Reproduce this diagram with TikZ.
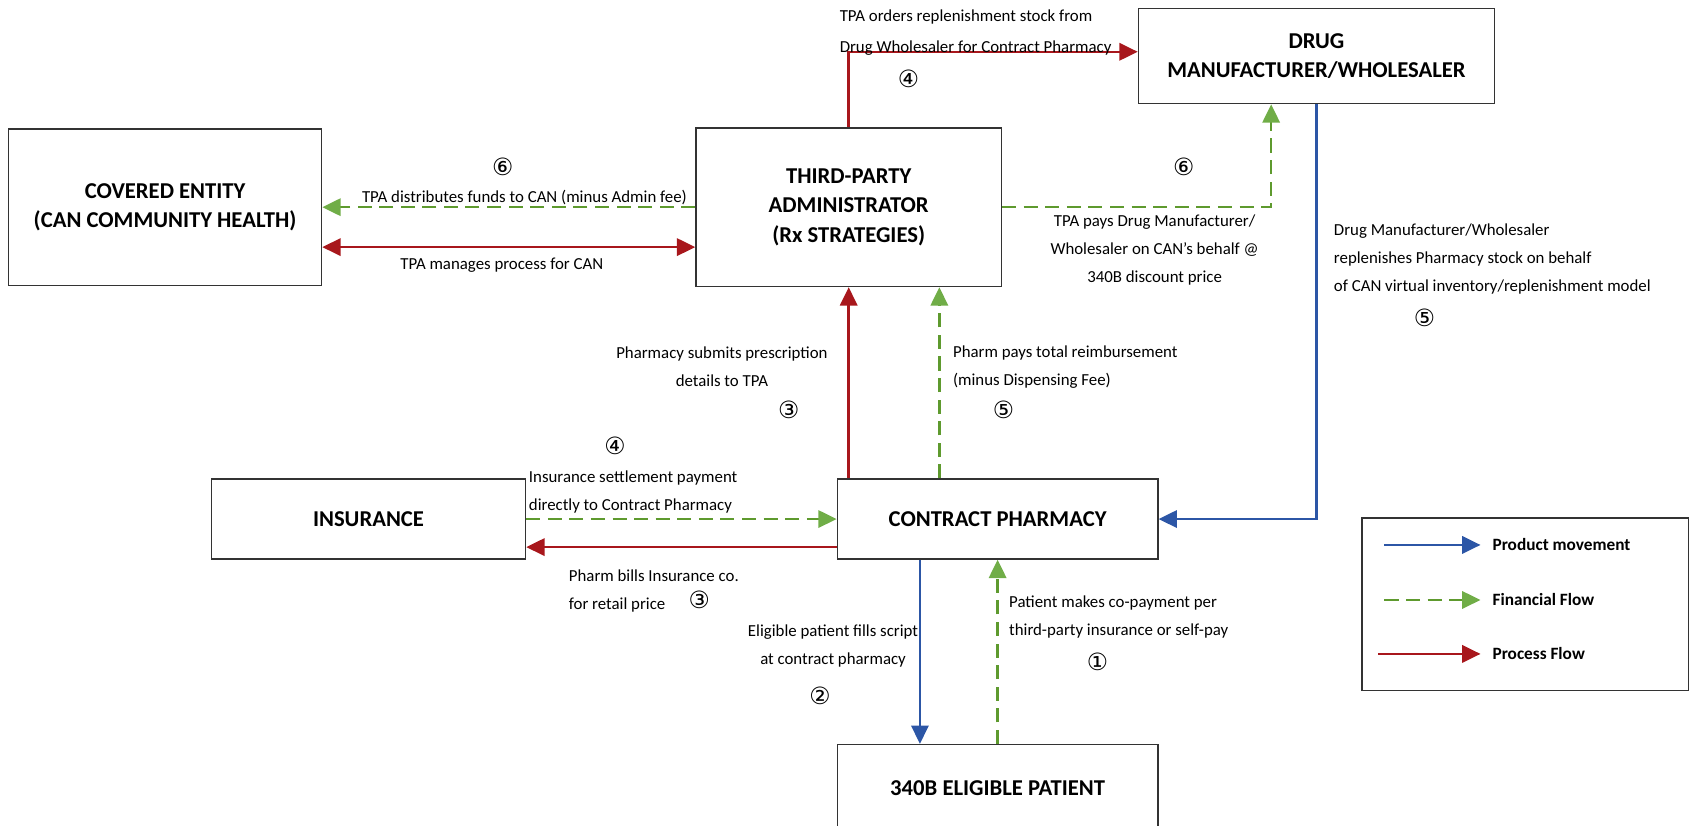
\documentclass[tikz,border=0pt]{standalone}
\usepackage{fontspec}
\setmainfont{Carlito}
\newfontfamily\circfont{DejaVu Sans}
\usetikzlibrary{arrows.meta,calc}
\definecolor{procred}{HTML}{A8171C}
\definecolor{fingreen}{HTML}{5E9A2E}
\definecolor{fingreenhead}{HTML}{70AD47}
\definecolor{prodblue}{HTML}{2C56A6}
\begin{document}
\begin{tikzpicture}[x=1pt,y=-1pt,
  box/.style={draw=black!80, line width=1.3pt, fill=white, align=center,
    font=\fontsize{21}{27.5}\selectfont\bfseries, inner sep=0pt},
  lbl/.style={font=\fontsize{15.6}{26}\selectfont, inner sep=0pt},
  num/.style={font=\circfont\fontsize{22}{22}\selectfont, inner sep=0pt},
  legtxt/.style={font=\fontsize{16}{18}\selectfont\bfseries, inner sep=0pt, anchor=west},
  redtip/.style={-{Triangle[length=17pt,width=16pt]}},
  proc/.style={draw=procred, line width=2.3pt, redtip},
  procboth/.style={draw=procred, line width=2.3pt, {Triangle[length=17pt,width=16pt]}-{Triangle[length=17pt,width=16pt]}},
  fin/.style={draw=fingreen, line width=2.3pt, dash pattern=on 13pt off 7pt,
    -{Triangle[length=17pt,width=16pt,color=fingreenhead]}},
  prod/.style={draw=prodblue, line width=2.3pt, -{Triangle[length=17pt,width=16pt]}}
]
\useasboundingbox (0,0) rectangle (1568,765);
\clip (0,0) rectangle (1568,765);

% boxes
\node[box, minimum width=290pt, minimum height=145pt] (ce) at (153,192) {COVERED ENTITY\\(CAN COMMUNITY HEALTH)};
\node[box, minimum width=283pt, minimum height=147pt] (tpa) at (786.5,192) {THIRD-PARTY\\ADMINISTRATOR\\(Rx STRATEGIES)};
\node[box, minimum width=330pt, minimum height=88pt] (drug) at (1220,52) {DRUG\\MANUFACTURER/WHOLESALER};
\node[box, minimum width=291pt, minimum height=74pt] (ins) at (341.5,481) {INSURANCE};
\node[box, minimum width=297pt, minimum height=74pt] (pharm) at (924.5,481) {CONTRACT PHARMACY};
\node[box, minimum width=297pt, minimum height=80pt] (pat) at (924.5,730) {340B ELIGIBLE PATIENT};

% connectors
\draw[proc] (tpa.north) |- ($(drug.west)+(0,-4)$);
\draw[fin] (tpa.east) -| ($(drug.south)+(-42,0)$);
\draw[fin] (tpa.west) -- (ce.east);
\draw[procboth] ($(ce.east)+(0,37)$) -- ($(tpa.west)+(0,37)$);
\draw[prod] (drug.south) |- (pharm.east);
\draw[proc] (tpa.south |- pharm.north) -- (tpa.south);
\draw[fin] ($(tpa.south |- pharm.north)+(84,0)$) -- ($(tpa.south)+(84,0)$);
\draw[fin] (ins.east) -- (pharm.west);
\draw[proc] ($(pharm.west)+(0,26)$) -- ($(ins.east)+(0,26)$);
\draw[prod] ($(pharm.south)+(-72,0)$) -- ($(pat.north)+(-72,0)$);
\draw[fin] (pat.north) -- (pharm.south);

% labels
\node[lbl, anchor=west, align=left, font=\fontsize{15.6}{29}\selectfont] (l1) at (778,30) {TPA orders replenishment stock from\\Drug Wholesaler for Contract Pharmacy};
\node[num] (n1) at (842,73) {④};
\node[lbl] (l2) at (486,183) {TPA distributes funds to CAN (minus Admin fee)};
\node[num] (n2) at (466,155) {⑥};
\node[lbl] (l3) at (465,246) {TPA manages process for CAN};
\node[lbl, align=center] (l4) at (1070,232) {TPA pays Drug Manufacturer/\\Wholesaler on CAN's behalf @\\340B discount price};
\node[num] (n4) at (1097,155) {⑥};
\node[lbl, anchor=west, align=left] (l5) at (1236,240) {Drug Manufacturer/Wholesaler\\replenishes Pharmacy stock on behalf\\of CAN virtual inventory/replenishment model};
\node[num] (n5) at (1320,295) {⑤};
\node[lbl, align=center] (l6) at (669,340) {Pharmacy submits prescription\\details to TPA};
\node[num] (n6) at (731,380) {③};
\node[lbl, anchor=west, align=left] (l7) at (883,340) {Pharm pays total reimbursement\\(minus Dispensing Fee)};
\node[num] (n7) at (930,380) {⑤};
\node[num] (n8) at (570,413) {④};
\node[lbl, anchor=west, align=left] (l8) at (490,456) {Insurance settlement payment\\directly to Contract Pharmacy};
\node[lbl, anchor=west, align=left] (l9) at (527,548) {Pharm bills Insurance co.\\for retail price};
\node[num] (n9) at (648,556) {③};
\node[lbl, align=center] (l10) at (772,599) {Eligible patient fills script\\at contract pharmacy};
\node[num] (n10) at (760,645) {②};
\node[lbl, anchor=west, align=left] (l11) at (935,572) {Patient makes co-payment per\\third-party insurance or self-pay};
\node[num] (n11) at (1017,613) {①};

% legend
\node[draw=black!80, line width=1.3pt, minimum width=303pt, minimum height=160pt, inner sep=0pt] (leg) at (1413.5,560) {};
\coordinate (la1) at (1283,505); \coordinate (lb1) at (1372,505);
\coordinate (la2) at (1283,556); \coordinate (lb2) at (1372,556);
\coordinate (la3) at (1277,606); \coordinate (lb3) at (1372,606);
\draw[prod] (la1) -- (lb1);
\draw[fin] (la2) -- (lb2);
\draw[proc] (la3) -- (lb3);
\node[legtxt] (t1) at (1383,505) {Product movement};
\node[legtxt] (t2) at (1383,556) {Financial Flow};
\node[legtxt] (t3) at (1383,606) {Process Flow};
\end{tikzpicture}
\end{document}
